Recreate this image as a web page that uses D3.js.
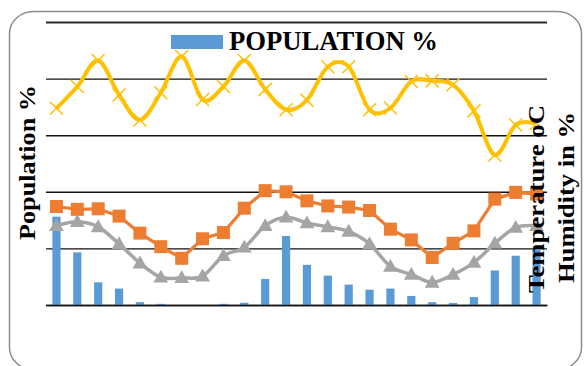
<!DOCTYPE html>
<html>
<head>
<meta charset="utf-8">
<script src="https://cdn.jsdelivr.net/npm/d3@7"></script>
<style>
  html, body { margin: 0; padding: 0; background: #fff; }
  svg { display: block; }
</style>
</head>
<body>
<script>
// 24 periods along the x axis (no labels are printed under the axis)
const categories = ["1","2","3","4","5","6","7","8","9","10","11","12",
                    "13","14","15","16","17","18","19","20","21","22","23","24"];

// Population % (bars, left axis)
const population = [15.6, 9.3, 4.0, 2.9, 0.5, 0.2, 0, 0, 0.2, 0.4, 4.6, 12.2,
                    7.1, 5.2, 3.6, 2.7, 2.9, 1.6, 0.5, 0.35, 1.4, 6.1, 8.7, 10.1];

// Right axis series
const tempMax = [34.8, 33.8, 34.0, 31.4, 25.4, 20.6, 16.5, 23.4, 25.6, 34.2, 40.4, 40.0,
                 36.8, 35.0, 34.6, 33.4, 26.8, 23.0, 16.8, 21.8, 26.2, 37.4, 39.8, 39.2];
const tempMin = [28.0, 29.4, 27.6, 21.6, 14.8, 9.8, 9.6, 10.2, 17.4, 20.4, 28.0, 31.0,
                 29.0, 27.6, 26.0, 21.6, 13.6, 10.8, 8.0, 10.8, 15.0, 21.8, 27.4, 28.0];
const humidity = [69.5, 77.2, 86.4, 74.2, 65.4, 75.0, 87.8, 72.6, 77.2, 86.4, 76.2, 69.0,
                  72.4, 84.2, 84.2, 69.0, 69.6, 79.0, 79.2, 77.8, 68.6, 53.0, 63.6, 64.2];

const leftTicks = [0, 10, 20, 30, 40, 50];

const W = 584, H = 366;
const plot = { left: 46, right: 547, top: 22, bottom: 305 };

const svg = d3.select("body").append("svg")
  .attr("width", W).attr("height", H);

// Chart frame
svg.append("rect")
  .attr("x", 9.5).attr("y", 11.5)
  .attr("width", 572).attr("height", 358)
  .attr("rx", 24).attr("ry", 22)
  .attr("fill", "#fff")
  .attr("stroke", "#8c8c8c")
  .attr("stroke-width", 1.5);

const x = d3.scaleBand()
  .domain(categories)
  .range([plot.left, plot.right])
  .paddingInner(0.607)
  .paddingOuter(0.3035);

const yLeft = d3.scaleLinear().domain([0, 50]).range([plot.bottom, plot.top]);
const yRight = d3.scaleLinear().domain([0, 100]).range([plot.bottom, plot.top]);

const cx = d => x(d) + x.bandwidth() / 2;

// Horizontal gridlines
const grid = d3.axisLeft(yLeft)
  .tickValues(leftTicks)
  .tickSize(-(plot.right - plot.left))
  .tickFormat("");
const gGrid = svg.append("g")
  .attr("transform", `translate(${plot.left},0)`)
  .call(grid);
gGrid.select(".domain").remove();
gGrid.selectAll(".tick line")
  .attr("stroke", d => d === 50 ? "#2a2a2a" : "#111")
  .attr("stroke-width", d => d === 50 ? 2 : 1.4);

// Population bars
svg.append("g").selectAll("rect")
  .data(population)
  .join("rect")
  .attr("x", (d, i) => x(categories[i]))
  .attr("width", x.bandwidth())
  .attr("y", d => yLeft(d))
  .attr("height", d => yLeft(0) - yLeft(d))
  .attr("fill", "#5B9BD5");

// Category axis line
const xAxis = d3.axisBottom(x).tickSize(0).tickFormat("");
const gX = svg.append("g")
  .attr("transform", `translate(0,${plot.bottom})`)
  .call(xAxis);
gX.select(".domain").attr("stroke", "#111").attr("stroke-width", 1.5);

// Maximum temperature: straight segments with square markers
const straight = d3.line()
  .x((d, i) => cx(categories[i]))
  .y(d => yRight(d));
svg.append("path")
  .datum(tempMax)
  .attr("d", straight)
  .attr("fill", "none")
  .attr("stroke", "#ED7D31")
  .attr("stroke-width", 3.2);
const sq = 13;
svg.append("g").selectAll("rect")
  .data(tempMax)
  .join("rect")
  .attr("x", (d, i) => cx(categories[i]) - sq / 2)
  .attr("y", d => yRight(d) - sq / 2)
  .attr("width", sq).attr("height", sq)
  .attr("fill", "#ED7D31");

// Minimum temperature: smoothed line with triangle markers
const smooth = d3.line()
  .x((d, i) => cx(categories[i]))
  .y(d => yRight(d))
  .curve(d3.curveCatmullRom.alpha(0));
svg.append("path")
  .datum(tempMin)
  .attr("d", smooth)
  .attr("fill", "none")
  .attr("stroke", "#A5A5A5")
  .attr("stroke-width", 3.5);
const tri = d3.symbol().type(d3.symbolTriangle).size(95);
svg.append("g").selectAll("path")
  .data(tempMin)
  .join("path")
  .attr("d", tri)
  .attr("transform", (d, i) => `translate(${cx(categories[i])},${yRight(d) + 1})`)
  .attr("fill", "#A5A5A5");

// Humidity: smoothed line with cross markers
svg.append("path")
  .datum(humidity)
  .attr("d", smooth)
  .attr("fill", "none")
  .attr("stroke", "#FFC000")
  .attr("stroke-width", 4);
const xm = 6.5;
svg.append("g").selectAll("path")
  .data(humidity)
  .join("path")
  .attr("d", (d, i) => {
    const px = cx(categories[i]), py = yRight(d);
    return `M${px - xm},${py - xm}L${px + xm},${py + xm}M${px - xm},${py + xm}L${px + xm},${py - xm}`;
  })
  .attr("stroke", "#FFC000")
  .attr("stroke-width", 1.5)
  .attr("fill", "none");

// Legend
svg.append("rect")
  .attr("x", 171).attr("y", 35)
  .attr("width", 52).attr("height", 14)
  .attr("fill", "#5B9BD5");
svg.append("text")
  .attr("x", 229).attr("y", 50)
  .attr("font-family", "'Liberation Serif', 'Times New Roman', serif")
  .attr("font-weight", "bold")
  .attr("font-size", 28)
  .attr("textLength", 209)
  .attr("lengthAdjust", "spacingAndGlyphs")
  .attr("fill", "#000")
  .text("POPULATION %");

// Axis titles
function vTitle(txt, bx, cy, len) {
  svg.append("text")
    .attr("transform", `translate(${bx},${cy}) rotate(-90)`)
    .attr("text-anchor", "middle")
    .attr("font-family", "'Liberation Serif', 'Times New Roman', serif")
    .attr("font-weight", "bold")
    .attr("font-size", 24)
    .attr("textLength", len)
    .attr("lengthAdjust", "spacingAndGlyphs")
    .attr("fill", "#000")
    .text(txt);
}
vTitle("Population %", 35, 162.5, 155);
vTitle("Temperature oC", 544, 199, 188);
vTitle("Humidity in %", 574, 197.5, 171);
</script>
</body>
</html>
